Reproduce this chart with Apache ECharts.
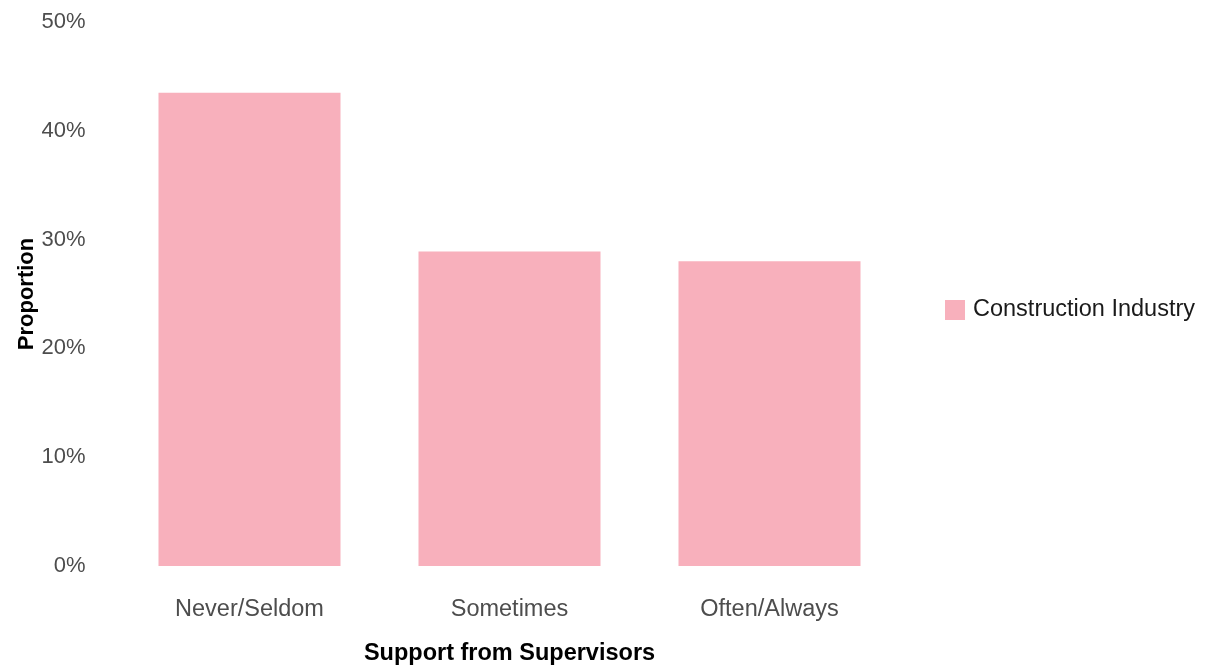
<!DOCTYPE html>
<html>
<head>
<meta charset="utf-8">
<script src="https://cdn.jsdelivr.net/npm/echarts@6/dist/echarts.min.js"></script>
<style>html,body{margin:0;padding:0;background:#fff}#c{width:1207px;height:671px}</style>
</head>
<body>
<div id="c"></div>
<script>
const categories = ['Never/Seldom', 'Sometimes', 'Often/Always'];
const seriesName = 'Construction Industry';
const values = [43.5, 28.9, 28.0];
const yTicks = [0, 10, 20, 30, 40, 50];

const chart = echarts.init(document.getElementById('c'));
chart.setOption({
  animation: false,
  backgroundColor: '#ffffff',
  textStyle: { fontFamily: 'Liberation Sans, Arial, sans-serif' },
  grid: { left: 119.5, width: 780, top: 22, bottom: 105, containLabel: false },
  legend: {
    data: [seriesName],
    left: 940, top: 293,
    orient: 'vertical',
    icon: 'rect',
    itemWidth: 20, itemHeight: 20,
    textStyle: { fontSize: 23.5, color: '#1a1a1a', padding: [0, 0, 0, 3] }
  },
  xAxis: {
    type: 'category',
    data: categories,
    name: 'Support from Supervisors',
    nameLocation: 'middle',
    nameGap: 76,
    nameTextStyle: { fontSize: 23.5, fontWeight: 'bold', color: '#000', verticalAlign: 'top' },
    axisLine: { show: false },
    axisTick: { show: false },
    axisLabel: { fontSize: 23.5, color: '#4d4d4d', margin: 32 },
    splitLine: { show: false }
  },
  yAxis: {
    type: 'value',
    min: yTicks[0], max: yTicks[yTicks.length - 1], interval: 10,
    name: 'Proportion',
    nameLocation: 'middle',
    nameRotate: 90,
    nameGap: 82,
    nameMoveOverlap: false,
    nameTextStyle: { fontSize: 22, fontWeight: 'bold', color: '#000' },
    axisLine: { show: false },
    axisTick: { show: false },
    axisLabel: { fontSize: 22, color: '#4d4d4d', margin: 34, formatter: '{value}%' },
    splitLine: { show: false }
  },
  series: [{
    name: seriesName,
    type: 'bar',
    data: values,
    barWidth: '70%',
    itemStyle: { color: '#f8b0bc' }
  }]
});
</script>
</body>
</html>
